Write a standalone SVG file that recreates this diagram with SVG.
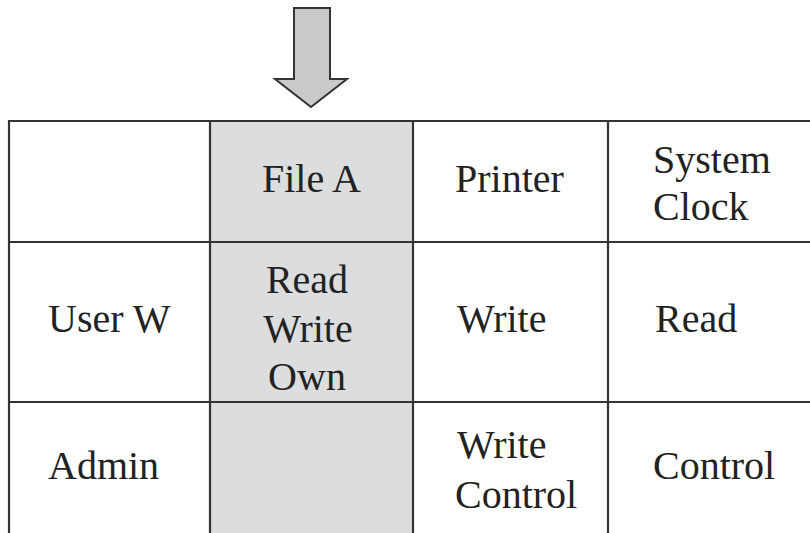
<svg xmlns="http://www.w3.org/2000/svg" width="810" height="533" viewBox="0 0 810 533">
<style>
text{font-family:"Times New Roman","Liberation Serif",Tinos,"DejaVu Serif",serif;font-size:40px;fill:#222}
.g{stroke:#333;stroke-width:2.2;fill:none}
</style>
<rect width="810" height="533" fill="#fff"/>
<rect x="210" y="121" width="203" height="420" fill="#dcdddf"/>
<g id="arrow">
<polygon points="294,8 330,8 330,79 347,79 311,107 275,79 294,79" fill="#c9c9cb" stroke="#333" stroke-width="2" stroke-linejoin="miter"/>
</g>
<g id="grid" class="g">
<line x1="8" y1="121" x2="810" y2="121"/>
<line x1="8" y1="242" x2="810" y2="242"/>
<line x1="8" y1="402" x2="810" y2="402"/>
<line x1="9" y1="120" x2="9" y2="533"/>
<line x1="210" y1="120" x2="210" y2="533"/>
<line x1="413" y1="120" x2="413" y2="533"/>
<line x1="608" y1="120" x2="608" y2="533"/>
</g>
<g id="header">
<text x="262" y="192">File A</text>
<text x="455" y="192">Printer</text>
<text x="653" y="173">System</text>
<text x="653" y="220">Clock</text>
</g>
<g id="userW">
<text x="48" y="332">User W</text>
<text x="307" y="293" text-anchor="middle">Read</text>
<text x="308" y="342" text-anchor="middle">Write</text>
<text x="307" y="390" text-anchor="middle">Own</text>
<text x="457" y="332">Write</text>
<text x="655" y="332">Read</text>
</g>
<g id="admin">
<text x="48" y="479">Admin</text>
<text x="457" y="458">Write</text>
<text x="455" y="508">Control</text>
<text x="653" y="479">Control</text>
</g>
</svg>
